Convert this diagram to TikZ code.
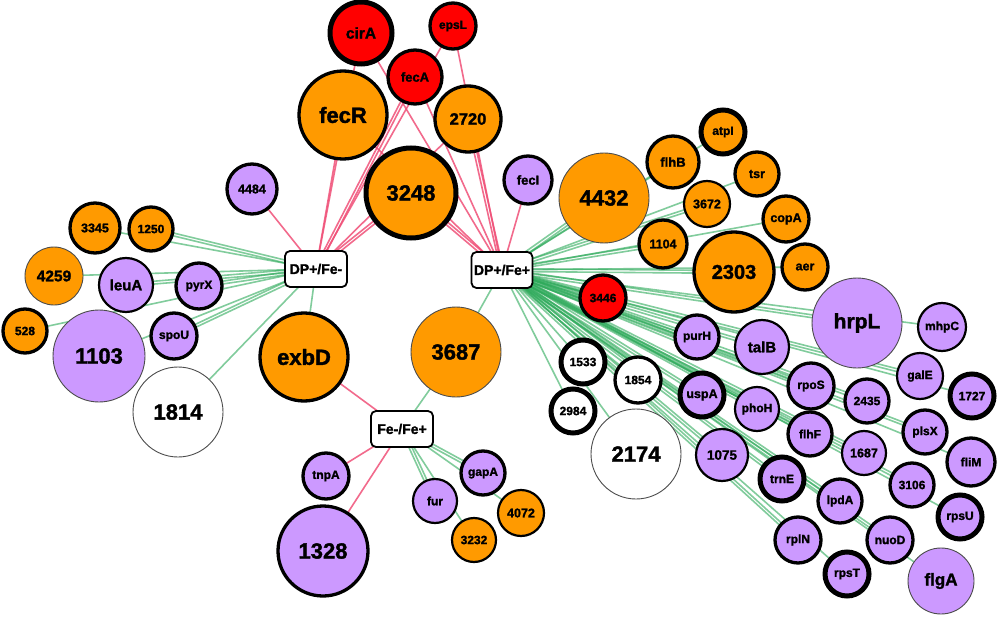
\documentclass[tikz,border=0pt]{standalone}
\usepackage{fontspec}
\setmainfont[BoldFeatures={FakeBold=1.6}]{Liberation Sans}
\usetikzlibrary{calc}
\definecolor{cOr}{RGB}{255,154,0}
\definecolor{cPu}{RGB}{204,153,255}
\definecolor{cRe}{RGB}{255,0,0}
\definecolor{cGe}{RGB}{45,170,90}
\definecolor{cPi}{RGB}{240,80,120}
\pgfdeclarelayer{bgl}
\pgfdeclarelayer{edges}
\pgfsetlayers{bgl,edges,main}
\tikzset{
  gn/.style={circle,inner sep=0pt,font=\bfseries},
  b1/.style={draw=black!70,line width=0.9pt},
  b2/.style={draw=black,line width=2.2pt},
  b3/.style={draw=black,line width=3.3pt},
  b4/.style={draw=black,line width=5pt},
  hub/.style={draw=black,line width=1.8pt,fill=white,rounded corners=5pt,minimum height=36pt,inner sep=0pt,font=\bfseries\fontsize{14}{16}\selectfont},
  gedge/.style={draw=cGe,line width=1.6pt,opacity=0.6},
  pedge/.style={draw=cPi,line width=1.6pt,opacity=0.85},
}
% name, x, y, diameter, fill, border, fontsize, label
\newcommand\nd[8]{\node[gn,#6,fill=#5,minimum size=#4pt,font=\bfseries\fontsize{#7}{#7}\selectfont] (#1) at (#2,#3) {#8};}
\newcommand\gE[2]{\draw[gedge] (#1.center) -- (#2.center);}
\newcommand\gD[2]{\draw[gedge] ($(#1.center)!1.4pt!90:(#2.center)$) -- ($(#2.center)!1.4pt!-90:(#1.center)$);
  \draw[gedge] ($(#1.center)!1.4pt!-90:(#2.center)$) -- ($(#2.center)!1.4pt!90:(#1.center)$);}
\newcommand\pE[2]{\draw[pedge] (#1.center) -- (#2.center);}
\newcommand\pD[2]{\draw[pedge] ($(#1.center)!1.4pt!90:(#2.center)$) -- ($(#2.center)!1.4pt!-90:(#1.center)$);
  \draw[pedge] ($(#1.center)!1.4pt!-90:(#2.center)$) -- ($(#2.center)!1.4pt!90:(#1.center)$);}
\begin{document}
\begin{tikzpicture}[x=1pt,y=-1pt]
\begin{pgfonlayer}{bgl}
\fill[white] (0,0) rectangle (1000,620);
\end{pgfonlayer}
\useasboundingbox (0,0) rectangle (1000,620);
% hubs
\node[hub,minimum width=62pt] (DPm) at (316,269) {DP+/Fe-};
\node[hub,minimum width=61pt] (DPp) at (502,270) {DP+/Fe+};
\node[hub,minimum width=62pt] (FF) at (402,429) {Fe-/Fe+};
% left cluster
\nd{n4484}{252}{189}{50}{cPu}{b3}{12.5}{4484}
\nd{n3345}{95}{228}{50}{cOr}{b3}{12.5}{3345}
\nd{n1250}{151}{229}{44}{cOr}{b3}{12}{1250}
\nd{n4259}{54}{276}{58}{cOr}{b1}{15.5}{4259}
\nd{leuA}{126}{285}{54}{cPu}{b2}{15}{leuA}
\nd{pyrX}{199}{286}{46}{cPu}{b3}{12}{pyrX}
\nd{n528}{25}{331}{44}{cOr}{b3}{12}{528}
\nd{n1103}{99}{356}{92}{cPu}{b1}{22}{1103}
\nd{spoU}{174}{336}{46}{cPu}{b3}{12}{spoU}
\nd{n1814}{178}{412}{90}{white}{b1}{22}{1814}
\nd{exbD}{304}{357}{88}{cOr}{b3}{22}{exbD}
% top cluster
\nd{cirA}{361}{33}{62}{cRe}{b4}{15.5}{cirA}
\nd{epsL}{453}{26}{46}{cRe}{b3}{12}{epsL}
\nd{fecA}{415}{77}{54}{cRe}{b3}{13}{fecA}
\nd{fecR}{343}{115}{88}{cOr}{b3}{22}{fecR}
\nd{n2720}{468}{119}{66}{cOr}{b3}{16.5}{2720}
\nd{n3248}{411}{193}{90}{cOr}{b4}{22}{3248}
\nd{fecI}{528}{180}{48}{cPu}{b3}{13}{fecI}
% bottom middle
\nd{n3687}{456}{352}{90}{cOr}{b1}{22}{3687}
\nd{tnpA}{326}{476}{46}{cPu}{b3}{12}{tnpA}
\nd{n1328}{323}{551}{90}{cPu}{b3}{22}{1328}
\nd{fur}{435}{501}{44}{cPu}{b2}{12}{fur}
\nd{gapA}{483}{473}{44}{cPu}{b3}{12}{gapA}
\nd{n4072}{521}{513}{46}{cOr}{b2}{12.5}{4072}
\nd{n3232}{474}{540}{44}{cOr}{b2}{12}{3232}
% right upper
\nd{n4432}{604}{198}{90}{cOr}{b1}{22}{4432}
\nd{flhB}{673}{162}{52}{cOr}{b3}{13}{flhB}
\nd{atpI}{723}{132}{44}{cOr}{b4}{12}{atpI}
\nd{tsr}{757}{174}{44}{cOr}{b3}{12.5}{tsr}
\nd{n3672}{707}{204}{46}{cOr}{b2}{12.5}{3672}
\nd{copA}{786}{219}{46}{cOr}{b3}{12.5}{copA}
\nd{n1104}{663}{244}{48}{cOr}{b3}{12.5}{1104}
\nd{n2303}{734}{272}{80}{cOr}{b3}{20}{2303}
\nd{aer}{805}{267}{46}{cOr}{b3}{12.5}{aer}
\nd{n3446}{603}{298}{46}{cRe}{b3}{12}{3446}
\nd{hrpL}{857}{323}{90}{cPu}{b1}{21}{hrpL}
\nd{mhpC}{942}{327}{48}{cPu}{b2}{12}{mhpC}
% right lower
\nd{purH}{697}{337}{44}{cPu}{b3}{12}{purH}
\nd{talB}{762}{347}{54}{cPu}{b2}{15}{talB}
\nd{n1533}{583}{362}{44}{white}{b4}{12}{1533}
\nd{n1854}{638}{380}{46}{white}{b3}{12}{1854}
\nd{n2984}{573}{411}{44}{white}{b4}{12}{2984}
\nd{n2174}{636}{454}{90}{white}{b1}{22}{2174}
\nd{uspA}{702}{395}{44}{cPu}{b4}{12.5}{uspA}
\nd{phoH}{757}{409}{44}{cPu}{b2}{12}{phoH}
\nd{n1075}{722}{455}{52}{cPu}{b2}{13.5}{1075}
\nd{rpoS}{811}{386}{46}{cPu}{b3}{12}{rpoS}
\nd{galE}{920}{376}{46}{cPu}{b2}{12}{galE}
\nd{n1727}{972}{396}{44}{cPu}{b4}{12}{1727}
\nd{n2435}{867}{401}{44}{cPu}{b3}{12}{2435}
\nd{plsX}{925}{432}{44}{cPu}{b3}{12}{plsX}
\nd{flhF}{810}{434}{44}{cPu}{b3}{12}{flhF}
\nd{n1687}{864}{453}{44}{cPu}{b2}{12.5}{1687}
\nd{fliM}{971}{462}{48}{cPu}{b3}{12}{fliM}
\nd{trnE}{782}{479}{44}{cPu}{b4}{12}{trnE}
\nd{n3106}{912}{485}{44}{cPu}{b3}{12}{3106}
\nd{lpdA}{840}{501}{44}{cPu}{b3}{12}{lpdA}
\nd{rpsU}{960}{517}{44}{cPu}{b4}{12}{rpsU}
\nd{rplN}{798}{540}{46}{cPu}{b3}{12}{rplN}
\nd{nuoD}{890}{540}{46}{cPu}{b3}{12}{nuoD}
\nd{rpsT}{847}{574}{44}{cPu}{b4}{12}{rpsT}
\nd{flgA}{941}{581}{66}{cPu}{b1}{17}{flgA}
% edges
\begin{pgfonlayer}{edges}
% pink, DP+/Fe-
\pE{DPm}{n4484}
\pE{DPm}{cirA}
\pE{DPm}{fecR}
\pD{DPm}{fecA}
\pE{DPm}{epsL}
\pE{DPm}{n2720}
\pD{DPm}{n3248}
% pink, DP+/Fe+
\pE{DPp}{cirA}
\pE{DPp}{fecR}
\pE{DPp}{fecA}
\pE{DPp}{epsL}
\pD{DPp}{n2720}
\pD{DPp}{n3248}
\pE{DPp}{fecI}
% pink, Fe-/Fe+
\pE{FF}{exbD}
\pE{FF}{tnpA}
\pE{FF}{n1328}
% green, DP+/Fe-
\gE{DPm}{n3345}
\gD{DPm}{n1250}
\gE{DPm}{n4259}
\gD{DPm}{leuA}
\gD{DPm}{pyrX}
\gE{DPm}{n528}
\gE{DPm}{n1103}
\gD{DPm}{spoU}
\gE{DPm}{n1814}
\gE{DPm}{exbD}
% green, Fe-/Fe+
\gE{FF}{n3687}
\gD{FF}{fur}
\gD{FF}{gapA}
\gE{FF}{n3232}
\gE{FF}{n4072}
% green, DP+/Fe+
\gE{DPp}{n3687}
\gD{DPp}{n4432}
\gE{DPp}{flhB}
\gE{DPp}{atpI}
\gE{DPp}{tsr}
\gD{DPp}{n3672}
\gE{DPp}{copA}
\gD{DPp}{n1104}
\gD{DPp}{n2303}
\gE{DPp}{aer}
\gD{DPp}{n3446}
\gD{DPp}{hrpL}
\gE{DPp}{mhpC}
\gD{DPp}{purH}
\gD{DPp}{talB}
\gE{DPp}{n1533}
\gE{DPp}{n1854}
\gE{DPp}{n2984}
\gE{DPp}{n2174}
\gD{DPp}{uspA}
\gD{DPp}{phoH}
\gD{DPp}{n1075}
\gD{DPp}{rpoS}
\gD{DPp}{galE}
\gE{DPp}{n1727}
\gD{DPp}{n2435}
\gD{DPp}{plsX}
\gD{DPp}{flhF}
\gD{DPp}{n1687}
\gE{DPp}{fliM}
\gD{DPp}{trnE}
\gD{DPp}{n3106}
\gD{DPp}{lpdA}
\gE{DPp}{rpsU}
\gD{DPp}{rplN}
\gD{DPp}{nuoD}
\gE{DPp}{rpsT}
\gE{DPp}{flgA}
\end{pgfonlayer}
\end{tikzpicture}
\end{document}
